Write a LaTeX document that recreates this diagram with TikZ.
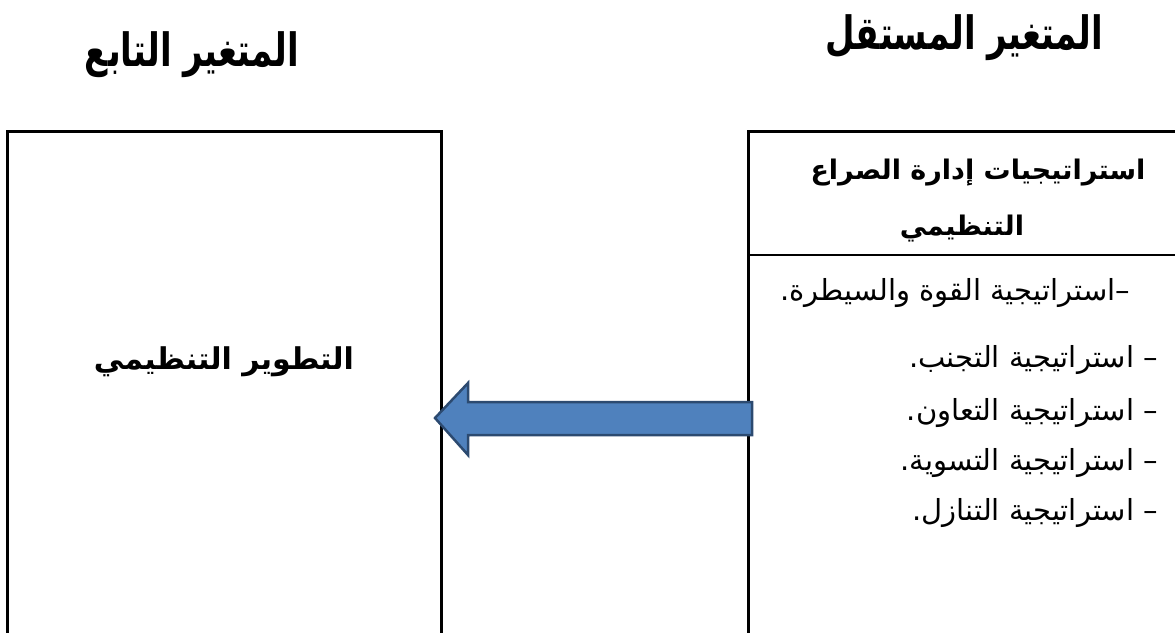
\documentclass[tikz,border=0pt]{standalone}
\usepackage{fontspec}
\newfontfamily\arabicfont[Script=Arabic]{DejaVu Sans}
\TeXXeTstate=1
\definecolor{arrowfill}{HTML}{4F81BD}
\definecolor{arrowline}{HTML}{2C4A70}
\tikzset{
  frameline/.style={line width=3pt, line cap=rect},
  titletext/.style={inner sep=0pt, font=\arabicfont\bfseries\fontsize{34}{40}\selectfont},
  headtext/.style={inner sep=0pt, font=\arabicfont\bfseries\fontsize{27}{32}\selectfont},
  itemtext/.style={inner sep=0pt, anchor=east, font=\arabicfont\fontsize{29}{34}\selectfont},
  deptext/.style={inner sep=0pt, font=\arabicfont\bfseries\fontsize{30}{36}\selectfont},
  bigarrow/.style={fill=arrowfill, draw=arrowline, line width=2.5pt, line join=miter}
}
\begin{document}
\begin{tikzpicture}[x=1pt,y=-1pt]
\useasboundingbox (0,0) rectangle (1175,632);
% frames
\coordinate (lbl) at (7,632);
\coordinate (ltl) at (7,131);
\coordinate (ltr) at (441,131);
\coordinate (lbr) at (441,632);
\coordinate (rbl) at (748,632);
\coordinate (rtl) at (748,131);
\coordinate (rtr) at (1175,131);
\coordinate (rsl) at (748,255);
\coordinate (rsr) at (1175,255);
\draw[frameline] (lbl) -- (ltl) -- (ltr) -- (lbr);
\draw[frameline] (rbl) -- (rtl) -- (rtr);
\draw[line width=2.5pt] (rsl) -- (rsr);
% titles
\node[titletext] (tind) at (964,38) {\scalebox{1}[1.35]{\beginR المتغير المستقل\endR}};
\node[titletext] (tdep) at (192,55) {\scalebox{1}[1.35]{\beginR المتغير التابع\endR}};
% independent box
\node[headtext] (h1) at (978,173) {\beginR استراتيجيات إدارة الصراع\endR};
\node[headtext] (h2) at (962,229) {\beginR التنظيمي\endR};
\node[itemtext] (i1) at (1130,293) {\beginR –استراتيجية القوة والسيطرة.\endR};
\node[itemtext] (i2) at (1158,360) {\beginR – استراتيجية التجنب.\endR};
\node[itemtext] (i3) at (1158,413) {\beginR – استراتيجية التعاون.\endR};
\node[itemtext] (i4) at (1158,463) {\beginR – استراتيجية التسوية.\endR};
\node[itemtext] (i5) at (1158,513) {\beginR – استراتيجية التنازل.\endR};
% dependent box
\node[deptext] (dep) at (224,362) {\beginR التطوير التنظيمي\endR};
% arrow
\coordinate (atip) at (435,418);
\coordinate (ahu) at (468,383);
\coordinate (asu) at (468,402);
\coordinate (aeu) at (752,402);
\coordinate (aed) at (752,435);
\coordinate (asd) at (468,435);
\coordinate (ahd) at (468,455);
\draw[bigarrow] (atip) -- (ahu) -- (asu) -- (aeu) -- (aed) -- (asd) -- (ahd) -- cycle;
\end{tikzpicture}
\end{document}
